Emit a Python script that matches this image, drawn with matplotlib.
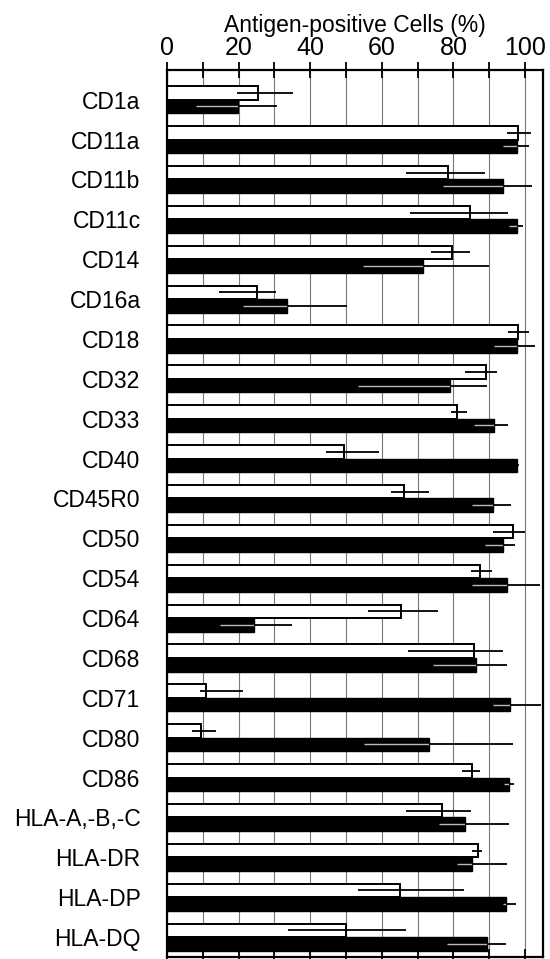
import numpy as np
import matplotlib
matplotlib.use("Agg")
import matplotlib.pyplot as plt
from matplotlib.ticker import MultipleLocator

# --- data ---
markers = ["CD1a", "CD11a", "CD11b", "CD11c", "CD14", "CD16a", "CD18", "CD32",
           "CD33", "CD40", "CD45R0", "CD50", "CD54", "CD64", "CD68", "CD71",
           "CD80", "CD86", "HLA-A,-B,-C", "HLA-DR", "HLA-DP", "HLA-DQ"]

# white bars (top of each pair)
white_mean = [25.5, 98.1, 78.6, 84.5, 79.7, 25.0, 98.0, 89.1, 80.9, 49.4, 66.2,
              96.5, 87.4, 65.3, 85.8, 11.0, 9.5, 85.1, 76.7, 86.9, 65.1, 49.9]
white_lo = [19.6, 94.9, 66.7, 67.9, 73.6, 14.4, 95.2, 83.3, 79.3, 44.4, 62.5,
            90.9, 84.8, 56.2, 67.4, 9.2, 7.1, 82.3, 66.7, 85.3, 53.2, 33.9]
white_hi = [35.3, 101.7, 88.8, 95.1, 84.5, 30.3, 101.0, 92.1, 83.7, 59.2, 73.1,
            100.0, 90.7, 75.6, 93.7, 21.3, 13.6, 87.5, 84.9, 87.9, 82.8, 66.7]

# black bars (bottom of each pair)
black_mean = [19.7, 97.7, 93.8, 97.7, 71.6, 33.4, 97.7, 79.1, 91.2, 97.7, 91.1,
              93.9, 95.0, 24.3, 86.2, 95.8, 73.2, 95.4, 83.2, 85.1, 94.8, 89.5]
black_lo = [8.1, 93.7, 77.2, 95.5, 54.7, 21.1, 91.2, 53.2, 85.6, 97.7, 85.1,
            88.8, 85.1, 14.9, 74.2, 91.1, 55.1, 94.2, 76.0, 80.9, 93.7, 78.2]
black_hi = [30.8, 101.2, 102.0, 99.4, 90.0, 50.2, 102.8, 89.3, 95.3, 98.4, 96.1,
            97.2, 104.3, 34.8, 95.0, 104.4, 96.7, 97.0, 95.6, 94.9, 97.5, 94.6]

x_ticks = [0, 20, 40, 60, 80, 100]
x_label = "Antigen-positive Cells (%)"

plt.rcParams['font.family'] = ['Liberation Sans', 'DejaVu Sans']


def main():
    fig = plt.figure(figsize=(5.5, 9.59), dpi=100)
    ax = fig.add_axes([167 / 550, 2 / 959, (543 - 167) / 550, (957 - 70) / 959])

    y = np.arange(len(markers))
    h = 0.34

    wm = np.array(white_mean)
    bm = np.array(black_mean)

    # bars
    ax.barh(y - h / 2, wm, height=h, color="white", edgecolor="black",
            linewidth=1.4, zorder=2)
    ax.barh(y + h / 2, bm, height=h, color="black", edgecolor="black",
            linewidth=1.0, zorder=2)

    # error lines (white bars: black; black bars: light inside, black outside)
    ax.hlines(y - h / 2, white_lo, white_hi, color="black", linewidth=1.3, zorder=3)
    ax.hlines(y + h / 2, black_lo, bm, color="#bbbbbb", linewidth=1.0, zorder=3)
    ax.hlines(y + h / 2, bm, black_hi, color="black", linewidth=1.3, zorder=3)

    ax.set_xlim(0, 105)
    ax.set_ylim(len(markers) - 0.5, -0.745)

    # axis on top
    ax.xaxis.set_label_position("top")
    ax.xaxis.tick_top()
    ax.set_xticks(x_ticks)
    ax.xaxis.set_minor_locator(MultipleLocator(10))
    ax.tick_params(axis="x", which="both", direction="inout", length=12,
                   width=1.3, top=True, bottom=True, labelsize=18, pad=1)
    ax.set_xlabel(x_label, fontsize=16.5, labelpad=3)

    ax.set_yticks(y)
    ax.set_yticklabels(markers, fontsize=16.5)
    ax.tick_params(axis="y", length=0, pad=19)

    ax.grid(axis="x", which="both", color="#777777", linewidth=0.8)
    ax.set_axisbelow(True)

    for s in ax.spines.values():
        s.set_linewidth(1.6)

    fig.savefig("out.png", dpi=100)


if __name__ == "__main__":
    main()
